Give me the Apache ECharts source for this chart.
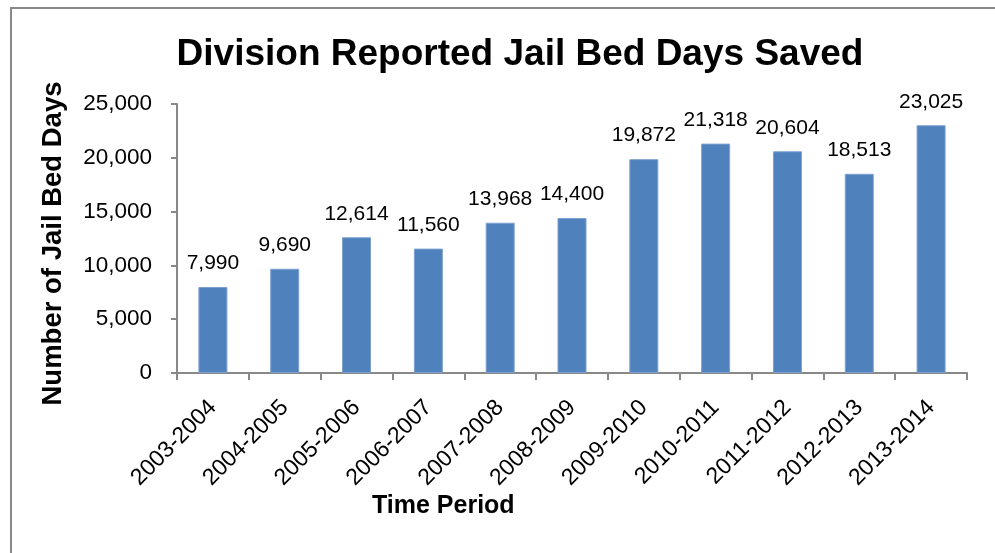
<!DOCTYPE html>
<html><head><meta charset="utf-8">
<script src="https://cdn.jsdelivr.net/npm/echarts@6/dist/echarts.min.js"></script>
<style>html,body{margin:0;padding:0;background:#fff}#c{width:995px;height:553px}</style>
</head><body><div id="c"></div>
<script>
const categories = ['2003-2004','2004-2005','2005-2006','2006-2007','2007-2008','2008-2009','2009-2010','2010-2011','2011-2012','2012-2013','2013-2014'];
const values = [7990, 9690, 12614, 11560, 13968, 14400, 19872, 21318, 20604, 18513, 23025];
const yTicks = {min: 0, max: 25000, interval: 5000};
const FONT = 'Liberation Sans, Arial, sans-serif';
const chart = echarts.init(document.getElementById('c'), null, {renderer: 'canvas'});
chart.setOption({
  animation: false,
  backgroundColor: '#fff',
  title: {
    text: 'Division Reported Jail Bed Days Saved',
    left: 515, top: 31, textAlign: 'center',
    textStyle: {fontFamily: FONT, fontSize: 37, fontWeight: 'bold', color: '#000'}
  },
  graphic: [
    {type: 'polyline', shape: {points: [[11, 553], [11, 8], [995, 8]]}, style: {stroke: '#888', lineWidth: 2, fill: null}},
    {type: 'text', left: 372, top: 494, style: {text: 'Time Period', font: 'bold 25px ' + FONT, fill: '#000'}}
  ],
  grid: {left: 177, top: 104, width: 790, height: 269, containLabel: false},
  xAxis: {
    type: 'category', data: categories,
    axisLine: {lineStyle: {color: '#888', width: 2}},
    axisTick: {show: true, length: 7, lineStyle: {color: '#888', width: 2}, alignWithLabel: false},
    axisLabel: {rotate: 45, fontFamily: FONT, fontSize: 23, color: '#000', margin: 31, interval: 0},
    splitLine: {show: false}
  },
  yAxis: {
    type: 'value', min: yTicks.min, max: yTicks.max, interval: yTicks.interval,
    name: 'Number of Jail Bed Days', nameLocation: 'middle', nameGap: 110,
    nameTextStyle: {fontFamily: FONT, fontSize: 27.5, fontWeight: 'bold', color: '#000', padding: [0, 10, 0, 0]},
    axisLine: {show: true, lineStyle: {color: '#888', width: 2}},
    axisTick: {show: true, length: 6, lineStyle: {color: '#888', width: 2}},
    axisLabel: {fontFamily: FONT, fontSize: 22.5, color: '#000', margin: 25,
      formatter: v => v.toLocaleString('en-US')},
    splitLine: {show: false}
  },
  series: [{
    type: 'bar', data: values, barWidth: 29,
    itemStyle: {color: '#4F81BD', borderColor: '#7DA0D0', borderWidth: 1},
    label: {show: true, position: 'top', distance: 13, fontFamily: FONT, fontSize: 21, color: '#000',
      formatter: p => p.value.toLocaleString('en-US')}
  }]
});
</script></body></html>
